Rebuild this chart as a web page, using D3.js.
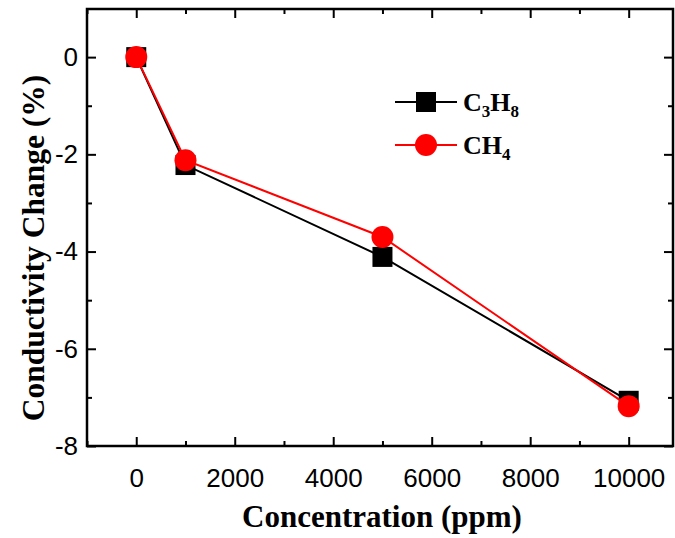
<!DOCTYPE html>
<meta charset="utf-8">
<head>
<style>
  body { margin: 0; background: #fff; }
  .tick text { font-family: "Liberation Sans", Arial, sans-serif; font-size: 26px; fill: #000; }
  .lbl { font-family: "Liberation Serif", "Times New Roman", serif; font-weight: bold; fill: #000; }
</style>
</head>
<body>
<div id="chartId"></div>
<script src="https://d3js.org/d3.v7.min.js"></script>
<script>

// data
var concentration = [0, 1000, 5000, 10000];
var c3h8 = [0, -2.22, -4.11, -7.07];
var ch4 = [0, -2.12, -3.70, -7.18];
var xTicks = [0, 2000, 4000, 6000, 8000, 10000];
var yTicks = [0, -2, -4, -6, -8];

var width = 675, height = 538;
var pLeft = 87, pRight = 673, pTop = 9, pBottom = 446;

var svg = d3.select('#chartId').append('svg')
    .attr('width', width)
    .attr('height', height);

var x = d3.scaleLinear().domain([-1000, 10900]).range([pLeft, pRight]);
var y = d3.scaleLinear().domain([-8, 0.99]).range([pBottom, pTop]);

var minorX = d3.range(-1000, 10900, 1000).filter(function(d) { return xTicks.indexOf(d) < 0; });
var minorY = d3.range(-7, 1, 2);

// plain hyphen instead of d3's unicode minus
var fmt = function(d) { return String(d); };

// minor ticks
function minor(axis, vals, len) {
    return axis.tickValues(vals).tickSize(len).tickFormat('');
}

var gx = svg.append('g').attr('transform', 'translate(0,' + pBottom + ')');
gx.call(d3.axisTop(x).tickValues(xTicks).tickSize(9).tickFormat(fmt));
gx.selectAll('.tick text').attr('y', 33).attr('dy', '0.32em');
gx.append('g').call(minor(d3.axisTop(x), minorX, 5));

var gxt = svg.append('g').attr('transform', 'translate(0,' + pTop + ')');
gxt.call(d3.axisBottom(x).tickValues(xTicks).tickSize(9).tickFormat(''));
gxt.append('g').call(minor(d3.axisBottom(x), minorX, 5));

var gy = svg.append('g').attr('transform', 'translate(' + pLeft + ',0)');
gy.call(d3.axisRight(y).tickValues(yTicks).tickSize(9).tickFormat(fmt));
gy.selectAll('.tick text').attr('x', -9).attr('text-anchor', 'end');
gy.append('g').call(minor(d3.axisRight(y), minorY, 5));

var gyr = svg.append('g').attr('transform', 'translate(' + pRight + ',0)');
gyr.call(d3.axisLeft(y).tickValues(yTicks).tickSize(9).tickFormat(''));
gyr.append('g').call(minor(d3.axisLeft(y), minorY, 5));

svg.selectAll('.domain').remove();
svg.selectAll('.tick line').attr('stroke', '#000').attr('stroke-width', 2);

svg.append('rect')
    .attr('x', pLeft).attr('y', pTop)
    .attr('width', pRight - pLeft).attr('height', pBottom - pTop)
    .attr('fill', 'none').attr('stroke', '#000').attr('stroke-width', 2.5);

// series
var line = d3.line()
    .x(function(d) { return x(d[0]); })
    .y(function(d) { return y(d[1]); });

var s1 = concentration.map(function(c, i) { return [c, c3h8[i]]; });
var s2 = concentration.map(function(c, i) { return [c, ch4[i]]; });

svg.append('path').datum(s1).attr('d', line)
    .attr('fill', 'none').attr('stroke', '#000').attr('stroke-width', 2);
svg.selectAll('rect.sq').data(s1).enter().append('rect')
    .attr('class', 'sq')
    .attr('x', function(d) { return x(d[0]) - 10; })
    .attr('y', function(d) { return y(d[1]) - 10; })
    .attr('width', 20).attr('height', 20)
    .attr('fill', '#000');

svg.append('path').datum(s2).attr('d', line)
    .attr('fill', 'none').attr('stroke', '#f00').attr('stroke-width', 2);
svg.selectAll('circle.ci').data(s2).enter().append('circle')
    .attr('class', 'ci')
    .attr('cx', function(d) { return x(d[0]); })
    .attr('cy', function(d) { return y(d[1]); })
    .attr('r', 11)
    .attr('fill', '#f00');

// legend
var leg = svg.append('g');
leg.append('line').attr('x1', 395).attr('x2', 457).attr('y1', 102).attr('y2', 102)
    .attr('stroke', '#000').attr('stroke-width', 2);
leg.append('rect').attr('x', 416).attr('y', 92).attr('width', 20).attr('height', 20).attr('fill', '#000');
leg.append('line').attr('x1', 395).attr('x2', 457).attr('y1', 145).attr('y2', 145)
    .attr('stroke', '#f00').attr('stroke-width', 2);
leg.append('circle').attr('cx', 426).attr('cy', 145).attr('r', 11).attr('fill', '#f00');

var t1 = leg.append('text').attr('class', 'lbl').attr('x', 463).attr('y', 111).attr('font-size', 26);
t1.append('tspan').text('C');
t1.append('tspan').attr('font-size', 17).attr('dy', 6).text('3');
t1.append('tspan').attr('dy', -6).text('H');
t1.append('tspan').attr('font-size', 17).attr('dy', 6).text('8');

var t2 = leg.append('text').attr('class', 'lbl').attr('x', 463).attr('y', 154).attr('font-size', 26);
t2.append('tspan').text('CH');
t2.append('tspan').attr('font-size', 17).attr('dy', 6).text('4');

// axis titles
svg.append('text').attr('class', 'lbl')
    .attr('x', 382).attr('y', 527)
    .attr('text-anchor', 'middle').attr('font-size', 31)
    .text('Concentration (ppm)');

svg.append('text').attr('class', 'lbl')
    .attr('transform', 'translate(44,' + 248 + ') rotate(-90)')
    .attr('text-anchor', 'middle').attr('font-size', 31.5)
    .text('Conductivity Change (%)');

</script>
</body>
